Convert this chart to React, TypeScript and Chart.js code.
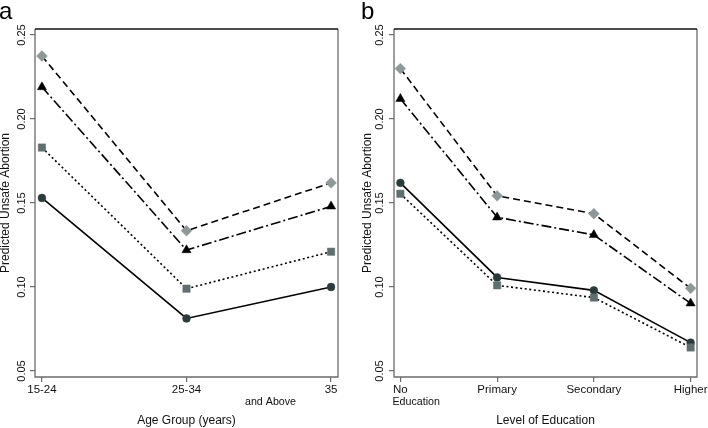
import React, { useEffect, useRef } from "react";
import { Chart, registerables } from "chart.js";

Chart.register(...registerables);

// ---------- data ----------
const yTicks = [0.05, 0.1, 0.15, 0.2, 0.25];

const ageGroups = ["15-24", "25-34", "35"];
const ageSubLabels = ["", "", "and Above"];
const ageDiamond = [0.2375, 0.1335, 0.162];
const ageTriangle = [0.219, 0.122, 0.148];
const ageSquare = [0.183, 0.099, 0.121];
const ageCircle = [0.153, 0.0813, 0.1];

const eduLevels = ["No", "Primary", "Secondary", "Higher"];
const eduSubLabels = ["Education", "", "", ""];
const eduDiamond = [0.23, 0.1543, 0.1436, 0.0992];
const eduTriangle = [0.212, 0.1415, 0.131, 0.0903];
const eduCircle = [0.162, 0.1057, 0.098, 0.0669];
const eduSquare = [0.1555, 0.101, 0.0937, 0.064];

const FONT = "'Liberation Sans', Arial, Helvetica, sans-serif";

const seriesStyles = [
  { key: "diamond", pointStyle: "rectRot", radius: 5.4, color: "#8e9898", dash: [7, 4] },
  { key: "triangle", pointStyle: "triangle", radius: 5.3, color: "#000000", dash: [10, 3, 2, 3] },
  { key: "square", pointStyle: "rect", radius: 5.2, color: "#5f6e6e", dash: [2, 2.6] },
  { key: "circle", pointStyle: "circle", radius: 3.9, color: "#2b3b3b", dash: [] as number[] },
];

type PanelCfg = {
  cats: string[];
  subs: string[];
  series: Record<string, number[]>;
  xTitle: string;
  xPad: number;
  padLeft: number;
  padRight: number;
  yWidth: number;
  yTitlePad: number;
  yLabelGap: number;
  subOffset: number;
  subAlign: CanvasTextAlign;
};

function buildChart(canvas: HTMLCanvasElement, cfg: PanelCfg) {
  const datasets = seriesStyles.map((s) => ({
    label: s.key,
    data: cfg.series[s.key].map((v, i) => ({ x: i, y: v })),
    borderColor: "#000",
    borderWidth: 1.6,
    borderDash: s.dash,
    pointStyle: s.pointStyle as any,
    pointRadius: s.radius,
    pointBackgroundColor: s.color,
    pointBorderColor: s.color,
    pointBorderWidth: 0.5,
    fill: false,
    tension: 0,
  }));

  const overlay = {
    id: "panelOverlay",
    afterDraw(chart: any) {
      const { ctx, chartArea: a, scales } = chart;
      const xs = scales.x;
      const ys = scales.y;
      ctx.save();
      // box
      ctx.lineWidth = 1.3;
      ctx.setLineDash([]);
      ctx.strokeStyle = "#6b6b6b";
      ctx.beginPath();
      ctx.moveTo(a.left, a.top);
      ctx.lineTo(a.left, a.bottom);
      ctx.lineTo(a.right, a.bottom);
      ctx.lineTo(a.right, a.top);
      ctx.stroke();
      ctx.strokeStyle = "#111";
      ctx.beginPath();
      ctx.moveTo(a.left, a.top);
      ctx.lineTo(a.right, a.top);
      ctx.stroke();

      // y tick labels (rotated)
      ctx.fillStyle = "#111";
      ctx.font = `11px ${FONT}`;
      ctx.textAlign = "center";
      ctx.textBaseline = "middle";
      yTicks.forEach((v) => {
        const y = ys.getPixelForValue(v);
        ctx.save();
        ctx.translate(a.left - cfg.yLabelGap, y);
        ctx.rotate(-Math.PI / 2);
        ctx.fillText(v.toFixed(2), 0, 0);
        ctx.restore();
      });

      // x tick labels
      ctx.font = `11.5px ${FONT}`;
      cfg.cats.forEach((c, i) => {
        const x = xs.getPixelForValue(i);
        ctx.fillText(c, x, a.bottom + 12.5);
      });
      ctx.font = `10.7px ${FONT}`;
      ctx.textAlign = cfg.subAlign;
      cfg.subs.forEach((s, i) => {
        if (!s) return;
        const x = xs.getPixelForValue(i) + cfg.subOffset;
        ctx.fillText(s, x, a.bottom + 25.5);
      });
      ctx.restore();
    },
  };

  const n = cfg.cats.length;
  return new Chart(canvas, {
    type: "line",
    data: { datasets },
    plugins: [overlay],
    options: {
      animation: false,
      responsive: false,
      events: [],
      layout: { padding: { top: 29, left: cfg.padLeft, right: cfg.padRight, bottom: 0 } },
      plugins: { legend: { display: false }, tooltip: { enabled: false } },
      scales: {
        x: {
          type: "linear",
          min: -cfg.xPad,
          max: n - 1 + cfg.xPad,
          afterBuildTicks: (scale: any) => {
            scale.ticks = cfg.cats.map((_, i) => ({ value: i }));
          },
          afterFit: (scale: any) => {
            scale.height = 51;
          },
          ticks: { display: false },
          grid: {
            display: true,
            drawOnChartArea: false,
            drawTicks: true,
            tickLength: 5,
            color: "#6b6b6b",
            lineWidth: 1.2,
          },
          border: { display: false },
          title: {
            display: true,
            text: cfg.xTitle,
            color: "#111",
            font: { family: FONT, size: 12 },
            padding: { top: 0, bottom: 0 },
          },
        },
        y: {
          type: "linear",
          min: 0.04643,
          max: 0.25357,
          afterBuildTicks: (scale: any) => {
            scale.ticks = yTicks.map((v) => ({ value: v }));
          },
          afterFit: (scale: any) => {
            scale.width = cfg.yWidth;
          },
          ticks: { display: false },
          grid: {
            display: true,
            drawOnChartArea: false,
            drawTicks: true,
            tickLength: 5,
            color: "#6b6b6b",
            lineWidth: 1.2,
          },
          border: { display: false },
          title: {
            display: true,
            text: "Predicted Unsafe Abortion",
            color: "#111",
            font: { family: FONT, size: 12 },
            padding: { top: cfg.yTitlePad, bottom: 0 },
          },
        },
      },
    } as any,
  });
}

function Panel(props: { cfg: PanelCfg; left: number; width: number; letter: string }) {
  const ref = useRef<HTMLCanvasElement>(null);
  useEffect(() => {
    if (!ref.current) return;
    const chart = buildChart(ref.current, props.cfg);
    return () => chart.destroy();
  }, []);
  return (
    <div style={{ position: "absolute", left: props.left, top: 0, width: props.width, height: 428 }}>
      <canvas ref={ref} width={props.width} height={428} style={{ width: props.width, height: 428, display: "block" }} />
      <div
        style={{
          position: "absolute",
          left: props.letter === "a" ? -1 : 11,
          top: -1,
          fontFamily: FONT,
          fontSize: 24,
          lineHeight: "24px",
          color: "#000",
        }}
      >
        {props.letter}
      </div>
    </div>
  );
}

const panelA: PanelCfg = {
  cats: ageGroups,
  subs: ageSubLabels,
  series: { diamond: ageDiamond, triangle: ageTriangle, square: ageSquare, circle: ageCircle },
  xTitle: "Age Group (years)",
  xPad: 0.048,
  padLeft: 0,
  padRight: 12,
  yWidth: 35,
  yTitlePad: -2,
  yLabelGap: 13,
  subOffset: -35,
  subAlign: "right",
};

const panelB: PanelCfg = {
  cats: eduLevels,
  subs: eduSubLabels,
  series: { diamond: eduDiamond, triangle: eduTriangle, square: eduSquare, circle: eduCircle },
  xTitle: "Level of Education",
  xPad: 0.066,
  padLeft: 10,
  padRight: 11,
  yWidth: 34,
  yTitlePad: 0,
  yLabelGap: 14,
  subOffset: -8,
  subAlign: "left",
};

export default function App() {
  return (
    <div style={{ position: "absolute", left: 0, top: 0, width: 708, height: 428, background: "#fff", overflow: "hidden" }}>
      <Panel cfg={panelA} left={0} width={350} letter="a" />
      <Panel cfg={panelB} left={350} width={358} letter="b" />
    </div>
  );
}
